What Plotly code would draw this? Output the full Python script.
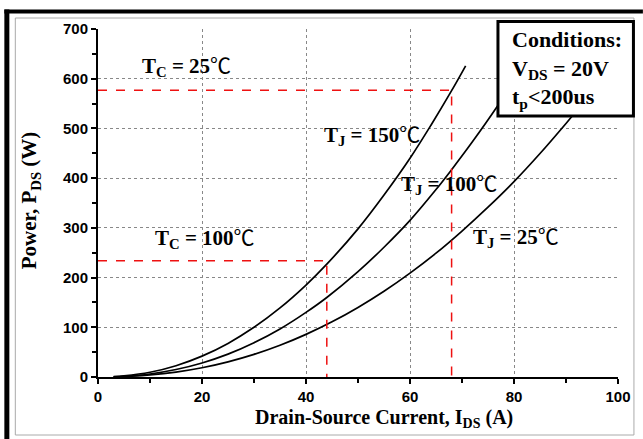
import plotly.graph_objects as go

# ---- data ----
ids_150 = [3, 5, 10, 15, 20, 25, 30, 35, 40, 44, 50, 55, 60, 64, 68, 70.7]
pds_150 = [0.7, 2.2, 9.5, 22.7, 42, 67.6, 100, 139, 185, 227, 298, 366, 440, 506, 576, 626]

ids_100 = [3, 5, 10, 15, 20, 25, 30, 35, 40, 44, 50, 55, 60, 65, 68, 72, 76.7, 78]
pds_100 = [0.4, 1.3, 6.1, 15, 28.2, 46, 69, 96.7, 130, 160, 212, 261, 315, 377, 417, 473, 543, 564]

ids_25 = [3, 5, 10, 15, 20, 25, 30, 35, 40, 45, 50, 55, 60, 65, 70, 75, 80, 85, 90, 92]
pds_25 = [0.3, 0.9, 4.1, 9.9, 18.6, 30.5, 45.5, 63.8, 85.7, 111, 140, 172.5, 209, 249, 293.6, 341.6, 393, 449.5, 510, 535]

limit_current = [68, 44]      # A
limit_power = [577, 234]      # W
limit_labels = ["T<sub>C</sub> = 25", "T<sub>C</sub> = 100"]

curve_labels = ["T<sub>J</sub> = 150", "T<sub>J</sub> = 100", "T<sub>J</sub> = 25"]

x_ticks = [0, 20, 40, 60, 80, 100]
y_ticks = [0, 100, 200, 300, 400, 500, 600, 700]

# ---- layout geometry helpers ----
W, H = 643, 439
ML, MR, MT, MB = 98, 23, 29, 62
PW, PH = W - ML - MR, H - MT - MB


def px(x):
    return (x - ML) / PW


def py(y):
    return (H - MB - y) / PH


serif = "Liberation Serif, Times New Roman, serif"
sans = "Liberation Sans, Arial, sans-serif"
DEG = '<span style="font-family:Noto Sans CJK SC;font-weight:normal">℃</span>'

fig = go.Figure()

for xs, ys in [(ids_150, pds_150), (ids_100, pds_100), (ids_25, pds_25)]:
    fig.add_trace(go.Scatter(x=xs, y=ys, mode="lines", line=dict(color="black", width=1.7, shape="spline"),
                             showlegend=False, hoverinfo="skip"))

for c, p in zip(limit_current, limit_power):
    fig.add_trace(go.Scatter(x=[0, c, c], y=[p, p, 0], mode="lines",
                             line=dict(color="#ee1111", width=1.5, dash="dash"),
                             showlegend=False, hoverinfo="skip"))

ann_font = dict(family=serif, size=21, color="black")
annotations = [
    dict(x=17, y=628, text="<b>" + limit_labels[0] + "</b>" + DEG),
    dict(x=20.5, y=282, text="<b>" + limit_labels[1] + "</b>" + DEG),
    dict(x=52.6, y=490, text="<b>" + curve_labels[0] + "</b>" + DEG),
    dict(x=67.5, y=392, text="<b>" + curve_labels[1] + "</b>" + DEG),
    dict(x=80.3, y=284, text="<b>" + curve_labels[2] + "</b>" + DEG),
]
for a in annotations:
    a.update(xref="x", yref="y", showarrow=False, font=ann_font)

# conditions text (box drawn as a shape)
annotations.append(dict(
    xref="paper", yref="paper", x=px(512), y=py(69), xanchor="left", yanchor="middle",
    text="<b>Conditions:</b><br><b>V<sub>DS</sub> = 20V</b><br><b>t<sub>p</sub><200us</b>",
    align="left", showarrow=False, font=dict(family=serif, size=22, color="black")))

# axis titles
annotations.append(dict(
    xref="paper", yref="paper", x=px(385), y=py(419), xanchor="center", yanchor="middle",
    text="<b>Drain-Source Current, I<sub>DS</sub> (A)</b>", showarrow=False,
    font=dict(family=serif, size=20, color="black")))
annotations.append(dict(
    xref="paper", yref="paper", x=px(30), y=py(200), xanchor="center", yanchor="middle",
    text="<b>Power, P<sub>DS</sub> (W)</b>", showarrow=False, textangle=-90,
    font=dict(family=serif, size=21, color="black")))

shapes = [
    # thin gray inner frame
    dict(type="rect", xref="paper", yref="paper", x0=px(15), x1=px(636), y0=py(435), y1=py(18),
         line=dict(color="#aaaaaa", width=1), layer="below"),
    # thick black outer lines (left and top)
    dict(type="line", xref="paper", yref="paper", x0=px(6.5), x1=px(6.5), y0=py(H + 2), y1=py(9.5),
         line=dict(color="black", width=5)),
    dict(type="line", xref="paper", yref="paper", x0=px(4), x1=px(W + 2), y0=py(11.5), y1=py(11.5),
         line=dict(color="black", width=4)),
    # conditions box
    dict(type="rect", xref="paper", yref="paper", x0=px(499.5), x1=px(635.5), y0=py(116), y1=py(21.5),
         line=dict(color="black", width=3), fillcolor="white", layer="above"),
]

axis_common = dict(
    showline=True, linecolor="black", linewidth=2,
    ticks="outside", ticklen=5, tickwidth=2, tickcolor="black",
    showgrid=True, gridcolor="#888888", gridwidth=1, griddash="dot",
    zeroline=False,
    tickfont=dict(family=sans, size=15, color="black", weight="bold"),
)

fig.update_layout(
    width=W, height=H,
    margin=dict(l=ML, r=MR, t=MT, b=MB),
    paper_bgcolor="white", plot_bgcolor="white",
    xaxis=dict(range=[0, 100], tickvals=x_ticks, ticktext=[str(v) for v in x_ticks],
               minor=dict(dtick=10, tick0=0, ticks="outside", ticklen=4, tickwidth=1.5, tickcolor="black", showgrid=False),
               **axis_common),
    yaxis=dict(range=[0, 700], tickvals=y_ticks, ticktext=[str(v) for v in y_ticks],
               minor=dict(dtick=50, tick0=0, ticks="outside", ticklen=4, tickwidth=1.5, tickcolor="black", showgrid=False),
               **axis_common),
    annotations=annotations,
    shapes=shapes,
)

fig.write_html("out.html")
